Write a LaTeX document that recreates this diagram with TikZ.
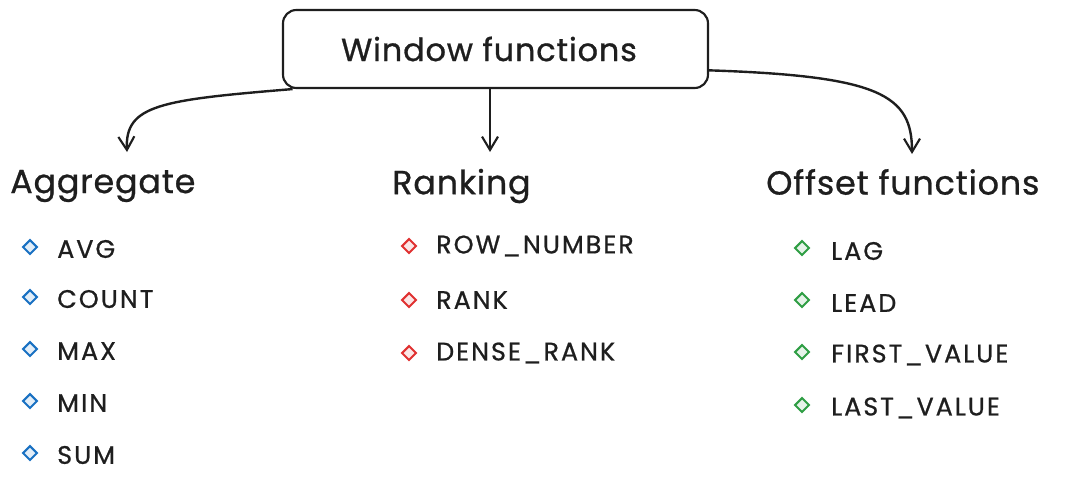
\documentclass[tikz,border=0pt]{standalone}
\usepackage{fontspec}
\setmainfont{Poppins}
\newfontfamily\headfont{Poppins}[LetterSpace=2.5,BoldFont=Poppins,BoldFeatures={FakeBold=0.8}]
\newfontfamily\itemfont{Poppins}[LetterSpace=8,BoldFont=Poppins,BoldFeatures={FakeBold=0.8}]
\usetikzlibrary{shapes.geometric,arrows.meta}
\definecolor{exblue}{HTML}{1971C2}
\definecolor{exred}{HTML}{E03131}
\definecolor{exgreen}{HTML}{2F9E44}
\definecolor{ink}{HTML}{1E1E1E}
\tikzset{
  titlebox/.style={draw=ink,line width=1.6pt,rounded corners=10pt,minimum width=318.75pt,minimum height=58.5pt},
  titletext/.style={font=\headfont\bfseries\fontsize{24}{28}\selectfont,text=ink,inner sep=0pt},
  heading/.style={anchor=west,font=\headfont\bfseries\fontsize{25}{30}\selectfont,text=ink,inner sep=0pt},
  item/.style={anchor=west,font=\itemfont\bfseries\fontsize{19}{22}\selectfont,text=ink,inner sep=0pt},
  bullet/.style={diamond,draw=#1,fill=#1!12,line width=1.5pt,minimum size=11pt,inner sep=0pt},
  conn/.style={draw=ink,line width=1.8pt,-{Straight Barb[length=10pt,width=12pt,line width=1.6pt]}}
}
\begin{document}
\begin{tikzpicture}[x=0.75pt,y=-0.75pt]
\useasboundingbox (0,0) rectangle (1072,483);
\node[titlebox] (win) at (495.5,49) {};
\node[titletext] (wintext) at (489,49) {Window functions};
\node[heading] (agg) at (10,186) {Aggregate};
\node[heading] (rank) at (392,186) {Ranking};
\node[heading] (off) at (766,182) {Offset functions};
% aggregate
\foreach \t/\y/\n in {AVG/249/a1,COUNT/299/a2,MAX/351/a3,MIN/403/a4,SUM/455/a5}{
  \node[bullet=exblue] (b\n) at (30,\y-2) {};
  \node[item] (\n) at (57,\y) {\t};
}
\foreach \t/\y/\n in {ROW\_NUMBER/246/r1,RANK/300/r2,DENSE\_RANK/353/r3}{
  \node[bullet=exred] (b\n) at (409,\y) {};
  \node[item] (\n) at (436,\y) {\t};
}
\foreach \t/\y/\n in {LAG/251/o1,LEAD/303/o2,FIRST\_VALUE/355/o3,LAST\_VALUE/408/o4}{
  \node[bullet=exgreen] (b\n) at (802,\y-3) {};
  \node[item] (\n) at (831,\y) {\t};
}
\coordinate (lend) at (127,152);
\coordinate (mend) at (490,152);
\coordinate (rend) at (912,154);
\path[conn] ([xshift=8pt]win.south west) .. controls (160,100) and (125,105) .. (lend);
\path[conn] (win.south -| mend) -- (mend);
\path[conn] ([yshift=-16pt]win.east) .. controls (880,76) and (912,95) .. (rend);
\end{tikzpicture}
\end{document}
